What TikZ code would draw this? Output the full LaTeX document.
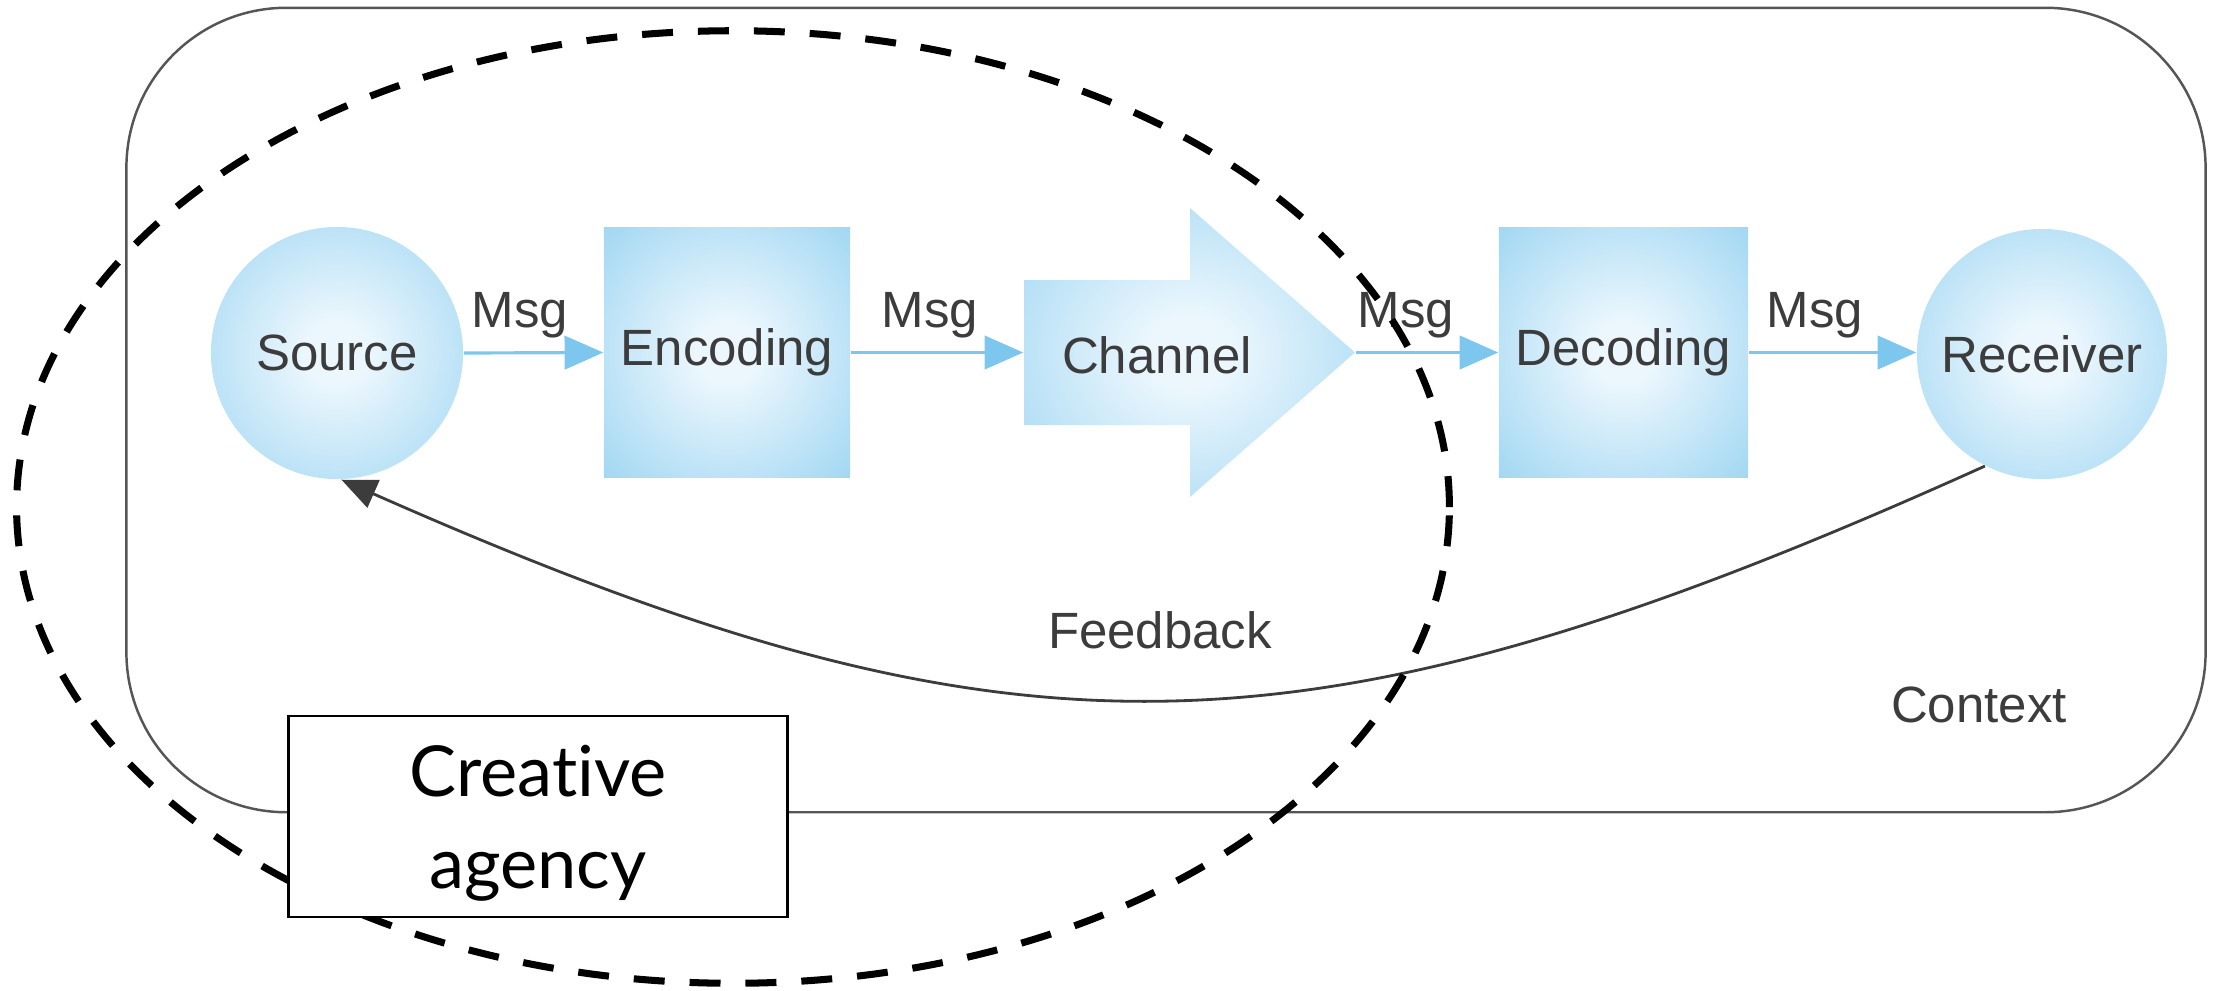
\documentclass[tikz,border=0pt]{standalone}
\usepackage{fontspec}
\setmainfont{Liberation Sans}
\newfontfamily\agencyfont[Ligatures=NoCommon]{Lato}
\usetikzlibrary{arrows.meta,shapes.geometric}
\definecolor{blueout}{RGB}{125,199,238}
\definecolor{bluein}{RGB}{236,247,253}
\definecolor{txtgray}{RGB}{60,60,60}
\definecolor{linegray}{RGB}{85,85,85}
\pgfdeclareradialshading{bluish}{\pgfpoint{0bp}{0bp}}{color(0bp)=(bluein); color(6bp)=(bluein); color(50bp)=(blueout); color(100bp)=(blueout)}
\begin{document}
\begin{tikzpicture}[x=0.01cm,y=-0.01cm,
  lbl/.style={font=\fontsize{14.5}{17}\selectfont, text=txtgray, inner sep=0pt, anchor=base},
  blob/.style={circle, shading=bluish, draw=none, minimum size=#1, inner sep=0pt, font=\fontsize{14.5}{17}\selectfont, text=txtgray},
  bluebox/.style={rectangle, shading=bluish, draw=none, inner sep=0pt, font=\fontsize{14.5}{17}\selectfont, text=txtgray},
  msg/.style={draw=blueout, line width=0.9pt, -{Triangle[length=11pt,width=9.5pt,fill=blueout]}},
  fb/.style={draw=txtgray, line width=0.8pt, -{Triangle[length=10pt,width=8.5pt]}},
]
\useasboundingbox (0,0) rectangle (2217,990);
\node[draw=linegray, line width=0.7pt, rounded corners=1.6cm, minimum width=20.78cm, minimum height=8.04cm, inner sep=0pt] (context) at (1166,410) {};
\node[blob=2.52cm] (source) at (337,353) {Source};
\node[bluebox, minimum width=2.46cm, minimum height=2.49cm] (encoding) at (727,352.5) {Encoding};
\node[inner sep=0pt, minimum width=3.31cm, minimum height=2.89cm] (channel) at (1189.5,352.5) {};
\path[shading=bluish] (1024,280) -- (1190,280) -- (1190,208) -- (1355,352.5) -- (1190,497) -- (1190,425) -- (1024,425) -- cycle;
\node[lbl] (channeltext) at (1157,373) {Channel};
\node[bluebox, minimum width=2.49cm, minimum height=2.49cm] (decoding) at (1623.5,352.5) {Decoding};
\node[blob=2.5cm] (receiver) at (2042,354) {Receiver};
\node[lbl] (m1) at (520,327) {Msg};
\node[lbl] (m2) at (930,327) {Msg};
\node[lbl] (m3) at (1406,327) {Msg};
\node[lbl] (m4) at (1815,327) {Msg};
\draw[msg] (source.east) -- (encoding.west);
\draw[msg] (encoding.east) -- (channel.west);
\draw[msg] (channel.east) -- (decoding.west);
\draw[msg] (decoding.east) -- (decoding.east -| receiver.west);
\draw[fb] (receiver.243) .. controls (1300,775) and (1010,775) .. (source.272);
\node[lbl] (fbtext) at (1160,648) {Feedback};
\node[lbl] (ctxtext) at (1979,722) {Context};
\node[ellipse, draw=black, line width=2pt, dash pattern=on 8.8pt off 7.1pt, minimum width=14.32cm, minimum height=9.52cm, inner sep=0pt] (agencyzone) at (733,507) {};
\node[draw=black, fill=white, line width=0.8pt, minimum width=4.98cm, minimum height=2.01cm, inner sep=0pt, align=center, text depth=0pt, font=\agencyfont\fontsize{20}{26.2}\selectfont] (agency) at (538,816.5) {Creative\\agency};
\end{tikzpicture}
\end{document}
